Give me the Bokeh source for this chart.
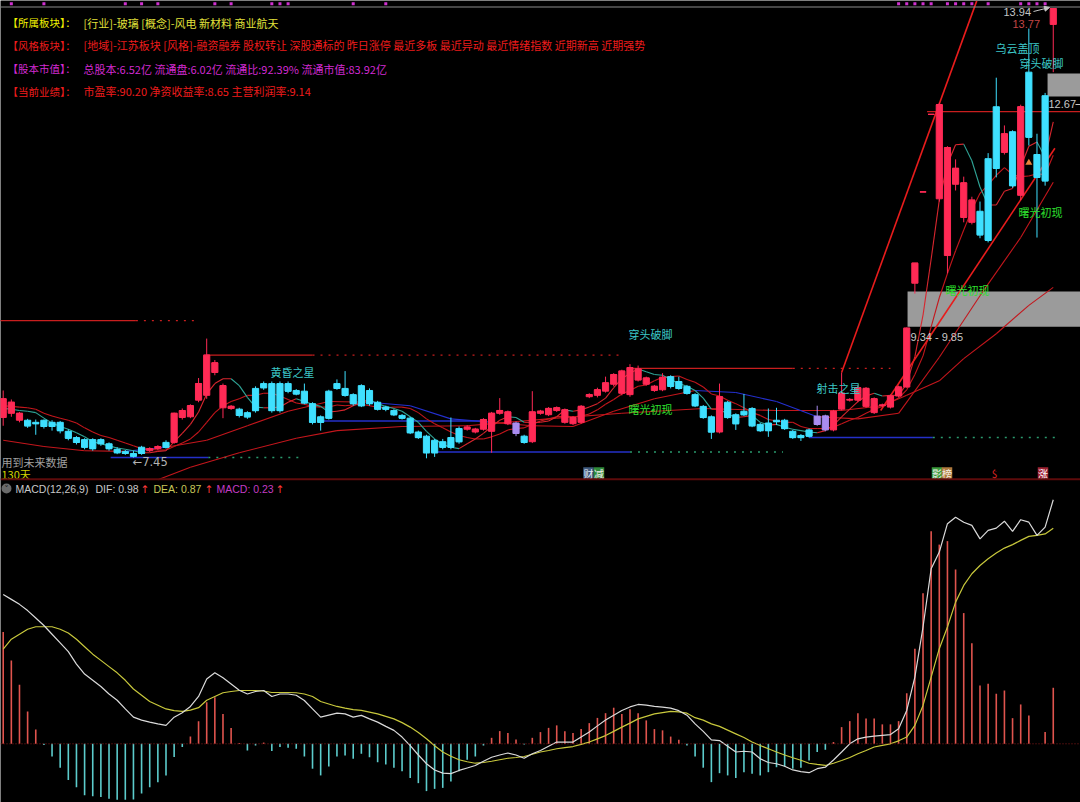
from bokeh.plotting import figure
from bokeh.models import Range1d, Span, Arrow, NormalHead
from bokeh.core.properties import value
from bokeh.embed import file_html
from bokeh.resources import INLINE

# ------------------------------------------------------------------ data
open_ = [8.03, 8.09, 7.99, 7.99, 7.96, 7.99, 7.96, 7.96, 7.83, 7.74,
         7.71, 7.71, 7.71, 7.65, 7.57, 7.54, 7.51, 7.60, 7.55, 7.58,
         7.67, 7.67, 8.03, 8.04, 8.28, 8.35, 8.68, 8.17, 8.16, 8.15,
         8.10, 8.45, 8.52, 8.52, 8.52, 8.52, 8.42, 8.41, 8.23, 8.04,
         8.41, 8.52, 8.45, 8.36, 8.49, 8.42, 8.25, 8.18, 8.13, 8.06,
         8.02, 7.82, 7.76, 7.70, 7.68, 7.74, 7.87, 7.86, 7.82, 7.86,
         7.83, 8.09, 7.94, 7.95, 7.76, 7.68, 8.09, 8.07, 8.13, 7.96,
         7.94, 7.96, 8.33, 8.35, 8.41, 8.51, 8.38, 8.36, 8.57, 8.51,
         8.42, 8.43, 8.62, 8.55, 8.48, 8.36, 8.19, 8.04, 7.82, 8.25,
         8.07, 8.12, 8.16, 7.93, 7.95, 7.99, 7.99, 7.83, 7.77, 7.85,
         8.05, 7.85, 7.85, 8.15, 8.28, 8.28, 8.19, 8.10, 8.20, 8.18,
         8.34, 8.47, 9.97, 11.29, 12.41, 11.19, 10.37, 11.40, 10.92, 10.85,
         11.01, 11.77, 12.52, 11.86, 12.16, 11.24, 13.02, 11.83, 12.68, 13.71]
high_ = [8.42, 8.29, 8.11, 8.01, 8.00, 8.00, 7.99, 7.98, 7.86, 7.76,
         7.73, 7.73, 7.73, 7.67, 7.60, 7.56, 7.55, 7.62, 7.60, 7.63,
         7.70, 8.10, 8.16, 8.22, 8.60, 9.17, 8.86, 8.52, 8.21, 8.17,
         8.12, 8.48, 8.55, 8.55, 8.55, 8.55, 8.44, 8.52, 8.25, 8.06,
         8.43, 8.58, 8.70, 8.38, 8.51, 8.45, 8.27, 8.20, 8.15, 8.08,
         8.04, 7.84, 7.78, 7.72, 7.72, 8.03, 7.90, 7.92, 7.88, 8.02,
         8.11, 8.31, 8.13, 7.97, 7.78, 8.41, 8.14, 8.18, 8.19, 8.16,
         8.05, 8.21, 8.38, 8.46, 8.62, 8.67, 8.72, 8.80, 8.78, 8.62,
         8.50, 8.67, 8.64, 8.62, 8.50, 8.38, 8.21, 8.06, 8.52, 8.27,
         8.09, 8.37, 8.18, 7.95, 8.16, 8.17, 8.01, 7.85, 7.79, 7.87,
         8.20, 8.07, 8.14, 8.68, 8.31, 8.49, 8.47, 8.32, 8.23, 8.36,
         8.49, 9.33, 10.26, 11.29, 12.41, 12.58, 11.95, 11.76, 11.51, 11.22,
         11.15, 11.85, 12.94, 12.25, 12.18, 12.55, 13.65, 12.13, 12.72, 13.94]
low_ = [7.91, 8.04, 7.96, 7.88, 7.78, 7.87, 7.84, 7.80, 7.70, 7.64,
        7.57, 7.55, 7.62, 7.55, 7.50, 7.49, 7.45, 7.49, 7.53, 7.56,
        7.58, 7.65, 8.00, 8.02, 8.25, 8.30, 8.64, 8.02, 8.14, 8.03,
        8.01, 8.10, 8.43, 8.10, 8.10, 8.38, 8.35, 8.22, 7.93, 7.84,
        8.00, 8.43, 8.33, 8.20, 8.18, 8.20, 8.13, 8.12, 8.05, 8.00,
        7.79, 7.72, 7.44, 7.46, 7.57, 7.57, 7.65, 7.84, 7.80, 7.84,
        7.52, 8.07, 7.92, 7.76, 7.65, 7.66, 8.07, 8.05, 8.11, 7.94,
        7.92, 7.94, 8.31, 8.32, 8.39, 8.48, 8.35, 8.33, 8.55, 8.49,
        8.40, 8.41, 8.45, 8.43, 8.36, 8.18, 8.01, 7.72, 7.80, 8.01,
        7.85, 8.05, 7.89, 7.82, 7.75, 7.92, 7.85, 7.72, 7.69, 7.74,
        7.91, 7.83, 7.83, 8.13, 8.26, 8.25, 8.17, 8.08, 8.18, 8.16,
        8.32, 8.46, 9.82, 11.29, 12.41, 11.15, 10.11, 11.31, 10.85, 10.82,
        10.62, 10.56, 11.50, 11.83, 11.35, 11.17, 11.96, 10.63, 11.38, 13.02]
close_ = [8.30, 8.25, 8.09, 7.91, 7.94, 7.90, 7.90, 7.84, 7.73, 7.67,
          7.60, 7.58, 7.65, 7.58, 7.52, 7.51, 7.47, 7.51, 7.58, 7.61,
          7.60, 8.09, 8.13, 8.20, 8.52, 8.93, 8.82, 8.49, 8.19, 8.06,
          8.04, 8.13, 8.46, 8.13, 8.13, 8.41, 8.37, 8.24, 7.96, 7.96,
          8.02, 8.45, 8.35, 8.23, 8.20, 8.23, 8.15, 8.15, 8.07, 8.02,
          7.81, 7.74, 7.52, 7.52, 7.60, 7.60, 7.68, 7.89, 7.86, 8.00,
          8.09, 8.13, 8.11, 7.80, 7.67, 8.11, 8.12, 8.16, 8.17, 8.14,
          8.03, 8.19, 8.36, 8.43, 8.53, 8.65, 8.70, 8.75, 8.73, 8.60,
          8.48, 8.61, 8.48, 8.45, 8.38, 8.20, 8.03, 7.82, 8.33, 8.03,
          7.94, 8.07, 7.91, 7.84, 7.84, 7.97, 7.87, 7.74, 7.74, 7.76,
          7.93, 8.05, 8.12, 8.38, 8.29, 8.46, 8.45, 8.30, 8.21, 8.34,
          8.47, 9.32, 10.26, 11.29, 12.41, 12.55, 11.93, 11.63, 11.42, 11.17,
          10.67, 10.59, 11.63, 12.13, 11.38, 12.52, 12.08, 11.50, 11.45, 13.94]
violet_days = [63, 100, 101]

ma5 = [8.16, 8.15, 8.13, 8.12, 8.10, 8.02, 7.95, 7.90, 7.86, 7.81,
       7.75, 7.68, 7.65, 7.62, 7.59, 7.57, 7.55, 7.52, 7.52, 7.54,
       7.55, 7.68, 7.80, 7.93, 8.11, 8.37, 8.52, 8.59, 8.59, 8.49,
       8.32, 8.18, 8.17, 8.17, 8.18, 8.25, 8.30, 8.26, 8.22, 8.19,
       8.11, 8.12, 8.14, 8.20, 8.25, 8.29, 8.23, 8.19, 8.16, 8.12,
       8.04, 7.96, 7.83, 7.72, 7.64, 7.60, 7.58, 7.65, 7.72, 7.80,
       7.90, 7.99, 8.04, 8.03, 7.96, 7.96, 7.96, 7.98, 8.04, 8.14,
       8.12, 8.14, 8.18, 8.23, 8.31, 8.46, 8.59, 8.67, 8.73, 8.69,
       8.65, 8.64, 8.58, 8.52, 8.48, 8.42, 8.31, 8.15, 8.15, 8.08,
       8.03, 8.04, 8.06, 7.96, 7.92, 7.93, 7.89, 7.86, 7.84, 7.82,
       7.81, 7.84, 7.92, 8.04, 8.15, 8.26, 8.34, 8.38, 8.34, 8.35,
       8.35, 8.52, 8.91, 9.51, 10.32, 11.17, 11.69, 11.97, 11.98, 11.74,
       11.36, 11.10, 11.10, 11.30, 11.34, 11.65, 11.95, 12.01, 11.79, 12.30]
ma10 = [8.20, 8.19, 8.18, 8.17, 8.15, 8.09, 8.05, 8.02, 7.99, 7.95,
        7.88, 7.82, 7.77, 7.74, 7.70, 7.66, 7.62, 7.58, 7.57, 7.56,
        7.56, 7.61, 7.66, 7.72, 7.82, 7.96, 8.10, 8.20, 8.26, 8.30,
        8.35, 8.35, 8.38, 8.38, 8.34, 8.29, 8.24, 8.22, 8.19, 8.18,
        8.18, 8.21, 8.20, 8.21, 8.22, 8.20, 8.18, 8.17, 8.18, 8.18,
        8.16, 8.10, 8.01, 7.94, 7.88, 7.82, 7.77, 7.74, 7.72, 7.72,
        7.75, 7.79, 7.85, 7.87, 7.88, 7.93, 7.98, 8.01, 8.04, 8.05,
        8.04, 8.05, 8.08, 8.14, 8.22, 8.29, 8.37, 8.42, 8.48, 8.50,
        8.56, 8.61, 8.62, 8.63, 8.58, 8.54, 8.47, 8.37, 8.34, 8.28,
        8.23, 8.17, 8.10, 8.06, 8.00, 7.98, 7.96, 7.96, 7.90, 7.87,
        7.87, 7.87, 7.89, 7.94, 7.99, 8.03, 8.09, 8.15, 8.19, 8.25,
        8.31, 8.43, 8.65, 8.92, 9.34, 9.76, 10.11, 10.44, 10.74, 11.03,
        11.27, 11.39, 11.53, 11.64, 11.54, 11.51, 11.52, 11.55, 11.54, 11.82]
ma20_day = [0, 5, 10, 15, 20, 25, 30, 35, 40, 45, 50, 55, 60, 65, 70, 75, 80,
            85, 90, 95, 100, 105, 110, 115, 120, 125, 129]
ma20 = [7.70, 7.61, 7.55, 7.54, 7.60, 7.70, 7.91, 8.12, 8.26, 8.25, 8.20, 8.01,
        7.96, 7.91, 7.90, 8.12, 8.30, 8.42, 8.39, 8.26, 8.04, 8.01, 8.09, 8.90,
        9.79, 10.63, 11.43]
ma60_day = [19, 23, 29, 36, 41, 49, 57, 68, 76, 86, 95, 103, 108, 111, 115, 118,
            122, 126, 129]
ma60 = [7.13, 7.31, 7.52, 7.73, 7.84, 7.90, 7.91, 8.02, 8.09, 8.16, 8.13, 8.13,
        8.20, 8.35, 8.56, 8.88, 9.24, 9.65, 9.91]

dif = [0.60, 0.58, 0.56, 0.535, 0.505, 0.475, 0.44, 0.405, 0.37, 0.32,
       0.28, 0.255, 0.23, 0.20, 0.175, 0.14, 0.107, 0.095, 0.087, 0.08,
       0.074, 0.107, 0.125, 0.15, 0.19, 0.26, 0.285, 0.265, 0.24, 0.215,
       0.20, 0.21, 0.214, 0.19, 0.20, 0.20, 0.195, 0.174, 0.14, 0.107,
       0.115, 0.123, 0.12, 0.107, 0.114, 0.10, 0.087, 0.07, 0.054, 0.027,
       -0.007, -0.045, -0.08, -0.105, -0.118, -0.12, -0.107, -0.097, -0.087, -0.07,
       -0.054, -0.045, -0.037, -0.045, -0.058, -0.04, -0.027, -0.01, 0.007, 0.007,
       0.007, 0.027, 0.047, 0.072, 0.096, 0.115, 0.134, 0.148, 0.158, 0.155,
       0.15, 0.147, 0.143, 0.133, 0.115, 0.08, 0.05, 0.016, 0.013, -0.01,
       -0.033, -0.03, -0.033, -0.06, -0.075, -0.08, -0.09, -0.105, -0.112, -0.116,
       -0.10, -0.094, -0.065, -0.033, 0.0, 0.02, 0.027, 0.031, 0.034, 0.037,
       0.06, 0.134, 0.268, 0.469, 0.703, 0.77, 0.884, 0.91, 0.89, 0.877,
       0.823, 0.857, 0.866, 0.894, 0.853, 0.90, 0.89, 0.837, 0.87, 0.98]
dea = [0.38, 0.42, 0.44, 0.46, 0.47, 0.47, 0.47, 0.46, 0.445, 0.42,
       0.39, 0.36, 0.335, 0.31, 0.285, 0.255, 0.22, 0.195, 0.17, 0.155,
       0.14, 0.133, 0.13, 0.135, 0.145, 0.175, 0.19, 0.205, 0.21, 0.214,
       0.214, 0.214, 0.212, 0.206, 0.206, 0.206, 0.205, 0.20, 0.19, 0.17,
       0.16, 0.15, 0.143, 0.137, 0.134, 0.127, 0.12, 0.11, 0.10, 0.085,
       0.067, 0.045, 0.02, -0.008, -0.033, -0.05, -0.064, -0.072, -0.078, -0.075,
       -0.07, -0.064, -0.058, -0.055, -0.051, -0.042, -0.033, -0.027, -0.02, -0.015,
       -0.011, -0.002, 0.007, 0.02, 0.033, 0.05, 0.067, 0.083, 0.10, 0.11,
       0.12, 0.125, 0.13, 0.128, 0.123, 0.105, 0.095, 0.08, 0.07, 0.055,
       0.04, 0.025, 0.007, -0.007, -0.02, -0.033, -0.045, -0.056, -0.066, -0.078,
       -0.083, -0.087, -0.078, -0.067, -0.055, -0.04, -0.027, -0.013, -0.006, 0.0,
       0.012, 0.027, 0.074, 0.154, 0.268, 0.382, 0.469, 0.569, 0.636, 0.683,
       0.716, 0.743, 0.766, 0.786, 0.80, 0.817, 0.833, 0.837, 0.843, 0.866]
macd = [0.449, 0.335, 0.237, 0.13, 0.057, -0.005, -0.051, -0.096, -0.145, -0.174,
        -0.207, -0.211, -0.214, -0.221, -0.225, -0.225, -0.224, -0.2, -0.174, -0.154,
        -0.127, -0.053, -0.013, 0.029, 0.091, 0.167, 0.187, 0.12, 0.063, 0.003,
        -0.027, -0.007, 0.005, -0.029, -0.013, -0.016, -0.02, -0.051, -0.1, -0.127,
        -0.091, -0.051, -0.047, -0.06, -0.04, -0.054, -0.074, -0.083, -0.096, -0.11,
        -0.137, -0.158, -0.19, -0.181, -0.177, -0.151, -0.11, -0.064, -0.051, -0.007,
        0.024, 0.051, 0.043, 0.017, -0.003, 0.024, 0.047, 0.064, 0.074, 0.05,
        0.043, 0.059, 0.083, 0.104, 0.123, 0.145, 0.12, 0.139, 0.123, 0.094,
        0.059, 0.054, 0.029, 0.016, -0.007, -0.051, -0.096, -0.154, -0.118, -0.127,
        -0.137, -0.114, -0.12, -0.127, -0.114, -0.094, -0.091, -0.1, -0.096, -0.067,
        -0.033, -0.024, 0.007, 0.067, 0.091, 0.123, 0.102, 0.102, 0.078, 0.078,
        0.091, 0.203, 0.382, 0.605, 0.854, 0.8, 0.814, 0.7, 0.525, 0.404,
        0.234, 0.241, 0.201, 0.214, 0.103, 0.158, 0.114, 0.0, 0.047, 0.225]

# resistance (red) and support (blue) levels: price, start day, solid end, dotted end
res_level = [9.43, 8.93, 8.74, 12.45]
res_start = [-0.4, 25.0, 76.8, 113.5]
res_solid_end = [16.3, 38.0, 97.0, 132.4]
res_dot_end = [24.0, 76.0, 109.0, 132.4]
sup_level = [7.45, 7.98, 7.53, 7.74]
sup_start = [13.2, 38.6, 53.4, 99.0]
sup_solid_end = [25.2, 58.8, 77.0, 114.2]
sup_dot_end = [36.5, 58.8, 95.8, 129.2]
# gap zones
zone_start = [111.1, 128.3]
zone_low = [9.34, 12.67]
zone_high = [9.85, 13.00]
# trend lines
trend_d0 = [103.0, 107.8]
trend_p0 = [8.68, 8.13]
trend_d1 = [119.6, 129.2]
trend_p1 = [14.05, 11.92]
signal_days = [1, 5, 15, 17, 19, 26, 28, 33, 34, 35, 43, 47, 110, 111, 112, 113,
               114, 116, 117, 118, 119, 121, 125, 126, 127, 128]
arrow_day, arrow_price = [126], [11.71]

# ------------------------------------------------------------------ layout helpers
X0, DX = 2.7, 8.14        # pixel x of day 0, pixels per day
P0, PPX = 14.0556, 69.2   # price at top pixel, pixels per price unit
M0, MPX = 743.3, 249.0    # MACD zero line pixel, pixels per MACD unit
W, H = 1080, 802


def sx(px):
    return (px - X0) / DX


def sy(py):
    return P0 - py / PPX


def smy(py):
    return (M0 - py) / MPX


p = figure(width=W, height=H, x_range=Range1d(sx(0), sx(W)),
           y_range=Range1d(sy(H), sy(0)), output_backend="svg",
           toolbar_location=None, min_border=0, x_axis_location=None,
           y_axis_location=None, background_fill_color="black",
           border_fill_color="black", outline_line_color=None)
p.extra_y_ranges = {"macd": Range1d(smy(H), smy(0))}
p.grid.visible = False

CJK = "Noto Sans CJK SC"
LAT = "Liberation Sans"


def label(px, py, s, color, size=11, align="left", font=CJK):
    p.text(x=[sx(px)], y=[sy(py)], text=[s], text_color=color,
           text_font_size=f"{size}px", text_font=value(font),
           text_align=align, text_baseline="middle")


n = len(close_)
days = list(range(n))
RIGHT = sx(W)

# gap zones (under everything)
p.quad(left=zone_start, right=[RIGHT] * len(zone_start), bottom=zone_low,
       top=zone_high, fill_color="#9b9b9b", line_color=None)

# level lines
for lv, a, b, c in zip(res_level, res_start, res_solid_end, res_dot_end):
    p.segment(x0=[a], x1=[b], y0=[lv], y1=[lv], line_color="#c81e1e", line_width=1.2)
    if c > b:
        p.segment(x0=[b], x1=[c], y0=[lv], y1=[lv], line_color="#c81e1e",
                  line_width=1.3, line_dash="2 6")
for lv, a, b, c in zip(sup_level, sup_start, sup_solid_end, sup_dot_end):
    p.segment(x0=[a], x1=[b], y0=[lv], y1=[lv], line_color="#2430c8", line_width=1.5)
    if c > b:
        p.segment(x0=[b], x1=[c], y0=[lv], y1=[lv], line_color="#2a9a6e",
                  line_width=1.5, line_dash="2 6")

# moving averages


def ma_segments(xs, ys, cols, width=1.1):
    p.segment(x0=xs[:-1], x1=xs[1:], y0=ys[:-1], y1=ys[1:], line_color=cols,
              line_width=width)


RED_MA, TEAL, BLUE = "#c4161c", "#2fa597", "#2430d0"
ma_segments(ma60_day, ma60, [RED_MA] * (len(ma60) - 1))
# MA20 is drawn blue where the price sits below it, red otherwise
ma20_cols = []
for k in range(len(ma20) - 1):
    mid = (ma20_day[k] + ma20_day[k + 1]) // 2
    ma20_cols.append(BLUE if close_[mid] < (ma20[k] + ma20[k + 1]) / 2 else RED_MA)
ma_segments(ma20_day, ma20, ma20_cols)
ma_segments(days, ma10, [RED_MA] * (n - 1))
ma_segments(days, ma5, ["#d8262e" if ma5[k + 1] >= ma5[k] else TEAL
                        for k in range(n - 1)])

# trend lines
p.segment(x0=trend_d0, y0=trend_p0, x1=trend_d1, y1=trend_p1,
          line_color="#e81c1c", line_width=1.6)

# candles
UP, DOWN, VIO = "#ff2a55", "#3fe0ff", "#a98cf0"
cols = []
for i in days:
    c = UP if close_[i] >= open_[i] else DOWN
    if i in violet_days:
        c = VIO
    cols.append(c)
p.segment(x0=days, x1=days, y0=low_, y1=high_, line_color=cols, line_width=1)
p.vbar(x=days, width=0.76, top=[max(o, c) for o, c in zip(open_, close_)],
       bottom=[min(o, c) for o, c in zip(open_, close_)], fill_color=cols,
       line_color=cols, line_width=1)
p.segment(x0=[d - 0.38 for d in days], x1=[d + 0.38 for d in days],
          y0=close_, y1=close_, line_color=cols, line_width=1.2)

p.scatter(x=arrow_day, y=arrow_price, marker="triangle", size=7,
          fill_color="#e8803a", line_color=None)
p.scatter(x=signal_days, y=[sy(3.3)] * len(signal_days), marker="square", size=3,
          fill_color="#d030d0", line_color=None)
p.add_layout(Span(location=sy(6.5), dimension="width", line_color="#8a8a8a",
                  line_width=1))

# panel separator
p.add_layout(Span(location=sy(478.8), dimension="width", line_color="#5e0b0b",
                  line_width=2))

# MACD panel
p.add_layout(Span(location=0, dimension="width", y_range_name="macd",
                  line_color="#8a1a1a", line_width=1, line_dash="1 2"))
mcols = ["#e0544e" if v >= 0 else "#5ccccc" for v in macd]
p.segment(x0=days, x1=days, y0=[0] * n, y1=macd, line_color=mcols,
          line_width=1.6, y_range_name="macd")
p.line(days, dea, line_color="#c8c83c", line_width=1.2, y_range_name="macd")
p.line(days, dif, line_color="#dadada", line_width=1.2, y_range_name="macd")

# ------------------------------------------------------------------ texts
info = [
    ("【所属板块】：", "[行业]-玻璃 [概念]-风电 新材料 商业航天", "#f2f200", "#e2e23a", 22),
    ("【风格板块】：", "[地域]-江苏板块 [风格]-融资融券 股权转让 深股通标的 昨日涨停 最近多板 "
     "最近异动 最近情绪指数 近期新高 近期强势", "#ee1c1c", "#ee1c1c", 44.5),
    ("【股本市值】：", "总股本:6.52亿 流通盘:6.02亿 流通比:92.39% 流通市值:83.92亿",
     "#d22ad2", "#d22ad2", 68),
    ("【当前业绩】：", "市盈率:90.20 净资收益率:8.65 主营利润率:9.14", "#ee1c1c",
     "#ee1c1c", 90.5),
]
for lab, txt, c1, c2, yy in info:
    label(7, yy, lab, c1, 10.5)
    label(83, yy, txt, c2, 11)

PAT, GRN = "#3cc8c8", "#2ee02e"
label(270, 371.5, "黄昏之星", PAT)
label(628, 333, "穿头破脚", PAT)
label(816, 387, "射击之星", PAT)
label(995, 47, "乌云盖顶", PAT)
label(1019, 62, "穿头破脚", PAT)
label(628, 408, "曙光初现", GRN)
label(945, 289.5, "曙光初现", GRN)
label(1018, 211, "曙光初现", GRN)

label(1003, 11.5, "13.94", "#c4c4c4", 11, font=LAT)
p.add_layout(Arrow(end=NormalHead(size=5, fill_color="#c4c4c4", line_color="#c4c4c4"),
                   x_start=sx(1033), y_start=sy(11), x_end=sx(1049), y_end=sy(7),
                   line_color="#c4c4c4", line_width=1))
label(1012, 23, "13.77", "#c44646", 11, font=LAT)
label(1048, 103.5, "12.67", "#c8c8c8", 11, font=LAT)
p.segment(x0=[sx(1075)], x1=[sx(1080)], y0=[sy(104)], y1=[sy(104)],
          line_color="#c8c8c8", line_width=1)
label(910, 336.5, "9.34 - 9.85", "#c8c8c8", 11, font=LAT)
label(132, 461, "←7.45", "#b4b4b4", 11.5, font="DejaVu Sans")
label(1, 461, "用到未来数据", "#a0a0a0", 11)
label(1, 473.5, "130天", "#d4d400", 11)

# bottom event tags


def tag(px, py, s, fg, bg):
    if bg:
        p.rect(x=[sx(px)], y=[sy(py)], width=10.5 / DX, height=12.5 / PPX,
               fill_color=bg, line_color=None)
    label(px, py, s, fg, 10, "center")


tag(588, 473, "财", "#e8eef8", "#3e5a7e")
tag(598.5, 473, "减", "#f0f0f0", "#2f8a3a")
tag(936.5, 473, "影", "#f0f0f0", "#3a9a3a")
tag(946.5, 473, "榜", "#f4eee0", "#b07a3e")
tag(994, 473, "$", "#e02424", None)
tag(1042.5, 473, "涨", "#ffffff", "#9c2030")

# MACD header
p.scatter(x=[sx(6)], y=[sy(488)], marker="circle", size=10, fill_color="#6a6a6a",
          line_color=None)
label(6, 488.5, "˅", "#1a1a1a", 9, "center", font="DejaVu Sans")
label(15, 488, "MACD(12,26,9)", "#c8c8c8", 10.5, font=LAT)
label(95, 488, "DIF: 0.98", "#c8c8c8", 10.5, font=LAT)
label(140, 488, "↑", "#ff3a3a", 10.5, font="DejaVu Sans")
label(153, 488, "DEA: 0.87", "#c8c858", 10.5, font=LAT)
label(204, 488, "↑", "#ff3a3a", 10.5, font="DejaVu Sans")
label(216, 488, "MACD: 0.23", "#c43cc4", 10.5, font=LAT)
label(275, 488, "↑", "#ff3a3a", 10.5, font="DejaVu Sans")

open("out.html", "w").write(file_html(p, INLINE))
